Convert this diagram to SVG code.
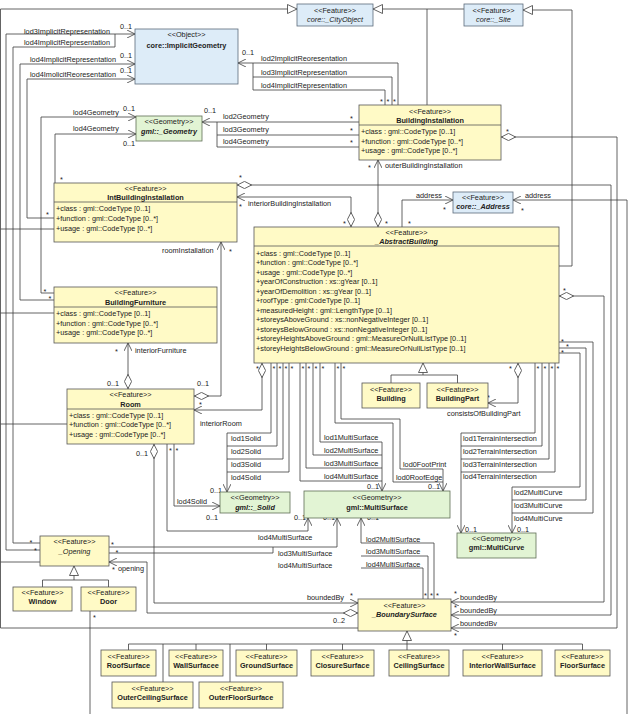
<svg xmlns="http://www.w3.org/2000/svg" width="628" height="714" viewBox="0 0 628 714">
<style>
text{font-family:"Liberation Sans",Arial,sans-serif;font-size:7.3px;fill:#222}
.m{text-anchor:middle}
.b{font-weight:bold}
.i{font-style:italic}
.y{fill:#fffac6;stroke:#555;stroke-width:0.8}
.bl{fill:#ddecf8;stroke:#5c6b7a;stroke-width:0.8}
.g{fill:#e2f4d4;stroke:#5f6e55;stroke-width:0.8}
.d{fill:none;stroke:#555;stroke-width:0.8}
#connectors path{fill:none;stroke:#3c3c3c;stroke-width:0.8}
</style>
<defs>
<marker id="arr" viewBox="0 0 8 8" refX="8" refY="4" markerWidth="8" markerHeight="8" orient="auto" markerUnits="userSpaceOnUse"><path d="M0,0 L8,4 L0,8" fill="none" stroke="#3c3c3c" stroke-width="0.8"/></marker>
<marker id="tri" viewBox="0 0 10 10" refX="10" refY="5" markerWidth="10" markerHeight="10" orient="auto" markerUnits="userSpaceOnUse"><path d="M0.5,0.5 L10,5 L0.5,9.5 Z" fill="#fff" stroke="#3c3c3c" stroke-width="0.8"/></marker>
<marker id="dia" viewBox="0 0 15 8" refX="0" refY="4" markerWidth="15" markerHeight="8" orient="auto" markerUnits="userSpaceOnUse"><path d="M0.4,4 L7.5,0.4 L14.6,4 L7.5,7.6 Z" fill="#fff" stroke="#3c3c3c" stroke-width="0.8"/></marker>
</defs>
<rect width="628" height="714" fill="#fff"/>

<g id="connectors">
<path d="M358,628 H0.5 V9 H297" marker-end="url(#tri)"/>
<path d="M54,229 H0.5 M54,313 H0.5 M67,424 H0.5 M40,562 H0.5"/>
<path d="M427,105 V9"/>
<path d="M464,9 H373" marker-end="url(#tri)"/>
<path d="M559,266 H572 V10 H523" marker-end="url(#tri)"/>
<path d="M423,375 V363" marker-end="url(#tri)"/>
<path d="M391,383 V375 H457.5 V383"/>
<path d="M74,580 V566" marker-end="url(#tri)"/>
<path d="M42.5,587 V580 H108.5 V587"/>
<path d="M407,650 V631" marker-end="url(#tri)"/>
<path d="M128.5,650 V644 H582.5 V650 M196,644 V650 M266.5,644 V650 M342.5,644 V650 M502.5,644 V650 M163,644 V682 M230,644 V682"/>

<path d="M40,550 H6 V34 H135" marker-end="url(#arr)"/>
<path d="M40,543 H13 V47 H115 V34"/>
<path d="M54,300 H20 V64 H135" marker-end="url(#arr)"/>
<path d="M54,218 H27 V79 H135" marker-end="url(#arr)"/>
<path d="M54,293 H41 V117 H136" marker-end="url(#arr)"/>
<path d="M55,183 V134 H136" marker-end="url(#arr)"/>
<path d="M398,105 V63 H238" marker-end="url(#arr)"/>
<path d="M392,105 V77 H253 V63 M385,105 V90 H253 V77"/>
<path d="M359,122 H202" marker-end="url(#arr)"/>
<path d="M359,135 H217 V122 M359,147 H217 V135"/>
<path d="M378,227 V160" marker-start="url(#dia)" marker-end="url(#arr)"/>
<path d="M351,227 V197 H237" marker-start="url(#dia)" marker-end="url(#arr)"/>
<path d="M237,185 H611 V615 H451" marker-start="url(#dia)" marker-end="url(#arr)"/>
<path d="M501,137 H617 V628 H451" marker-start="url(#dia)" marker-end="url(#arr)"/>
<path d="M559,296 H604 V602 H451" marker-start="url(#dia)" marker-end="url(#arr)"/>
<path d="M402,227 V200 H453" marker-end="url(#arr)"/>
<path d="M627,714 V200 H513" marker-end="url(#arr)"/>
<path d="M90,611 V714"/>
<path d="M194,396 H221 V242" marker-start="url(#dia)" marker-end="url(#arr)"/>
<path d="M128,389 V343" marker-start="url(#dia)" marker-end="url(#arr)"/>
<path d="M262,363 V410 H194" marker-start="url(#dia)" marker-end="url(#arr)"/>
<path d="M271,363 V433 H227 V492" marker-end="url(#arr)"/>
<path d="M277,363 V446 H227 M283,363 V459 H227 M289,363 V472 H227"/>
<path d="M174,444 V506 H220" marker-end="url(#arr)"/>
<path d="M167,444 V531 H308 V518" marker-end="url(#arr)"/>
<path d="M320,363 V442 H382 V491" marker-end="url(#arr)"/>
<path d="M313,363 V455 H382 M306,363 V468 H382 M300,363 V481 H382"/>
<path d="M341,363 V419 H400 V469 H443 V491" marker-end="url(#arr)"/>
<path d="M335,363 V423 H393 V482 H443"/>
<path d="M535,363 V433 H461 V533" marker-end="url(#arr)"/>
<path d="M542,363 V446 H461 M549,363 V459 H461 M555,363 V472 H461"/>
<path d="M559,353 H580 V487 H512 V533" marker-end="url(#arr)"/>
<path d="M559,348 H586 V500 H512 M559,342 H593 V513 H512"/>
<path d="M518,363 V403 H488" marker-start="url(#dia)" marker-end="url(#arr)"/>
<path d="M109,547 H337 V518" marker-end="url(#arr)"/>
<path d="M109,553 H273 V547"/>
<path d="M434,599 V543 H361 V518" marker-end="url(#arr)"/>
<path d="M428,599 V556 H361 M423,599 V568 H361"/>
<path d="M154,444 V603 H358" marker-start="url(#dia)" marker-end="url(#arr)"/>
<path d="M358,613 H147 V562 H109" marker-start="url(#dia)" marker-end="url(#arr)"/>

<g id="connector-labels">
<text x="24" y="33.6">lod3ImplicitRepresentation</text>
<text x="24" y="45.2">lod4ImplicitRepresentation</text>
<text x="120" y="28.6">0..1</text>
<text x="30" y="62.4">lod4ImplicitRepresentation</text>
<text x="120" y="57.6">0..1</text>
<text x="30" y="77.4">lod4ImolicitReoresentation</text>
<text x="120" y="72.6">0..1</text>
<text x="73" y="115.4">lod4Geometry</text>
<text x="123" y="110.6">0..1</text>
<text x="73" y="130.6">lod4Geometry</text>
<text x="123" y="145.6">0..1</text>
<text x="204" y="112.6">0..1</text>
<text x="242" y="54.6">0..1</text>
<text x="261" y="61.4">lod2ImplicitReoresentation</text>
<text x="261" y="74.6">lod3ImplicitRepresentation</text>
<text x="261" y="87.6">lod4ImplicitRepresentation</text>
<text x="380" y="104">*</text><text x="386.5" y="104">*</text><text x="393" y="104">*</text>
<text x="223" y="118.6">lod2Geometry</text>
<text x="223" y="131.6">lod3Geometry</text>
<text x="223" y="143.6">lod4Geometry</text>
<text x="350" y="121">*</text><text x="350" y="133">*</text><text x="350" y="145">*</text>
<text x="368" y="170">*</text>
<text x="385" y="167.6">outerBuildingInstallation</text>
<text x="506" y="134">*</text>
<text x="239" y="180">*</text>
<text x="239" y="209">*</text>
<text x="248" y="205.6">interiorBuildingInstallation</text>
<text x="343" y="226">*</text><text x="385" y="226">*</text>
<text x="416" y="198.4">address</text>
<text x="443" y="212">*</text>
<text x="408" y="226">*</text>
<text x="525" y="198.4">address</text>
<text x="521" y="213">*</text>
<text x="563" y="293">*</text>
<text x="561" y="343.5">*</text><text x="566" y="349">*</text><text x="561" y="354.5">*</text>
<text x="162" y="252.6">roomInstallation</text>
<text x="229" y="254">*</text>
<text x="46" y="217">*</text>
<text x="43.5" y="294">*</text><text x="48.5" y="301">*</text>
<text x="60" y="182">*</text>
<text x="115" y="354">*</text>
<text x="135" y="352.6">interiorFurniture</text>
<text x="107" y="385.6">0..1</text>
<text x="197" y="385.6">0..1</text>
<text x="200" y="425.6">interiorRoom</text>
<text x="199" y="407">*</text>
<text x="136" y="455.6">0..1</text>
<text x="169" y="453">*</text><text x="175.5" y="453">*</text>
<text x="231" y="440.6">lod1Solid</text>
<text x="231" y="453.6">lod2Solid</text>
<text x="231" y="466.6">lod3Solid</text>
<text x="231" y="479.6">lod4Solid</text>
<text x="210" y="492.6">0..1</text>
<text x="177" y="503.6">lod4Solid</text>
<text x="206" y="519.6">0..1</text>
<text x="258" y="539.6">lod4MultiSurface</text>
<text x="294" y="519.6">0..1</text>
<text x="323" y="519.6">0..1</text>
<text x="367" y="519.6">0..1</text>
<text x="324" y="440.4">lod1MultiSurface</text>
<text x="324" y="453.4">lod2MultiSurface</text>
<text x="324" y="466.4">lod3MultiSurface</text>
<text x="324" y="479.4">lod4MultiSurface</text>
<text x="367" y="489.4">0..1</text>
<text x="428" y="489.4">0..1</text>
<text x="403" y="467">lod0FootPrint</text>
<text x="396" y="480">lod0RoofEdge</text>
<text x="256" y="371">*</text>
<text x="272.5" y="371">*</text><text x="278.5" y="371">*</text><text x="284.5" y="371">*</text><text x="290.5" y="371">*</text>
<text x="301.5" y="371">*</text><text x="307.5" y="371">*</text><text x="314.5" y="371">*</text><text x="321.5" y="371">*</text>
<text x="336.5" y="371">*</text><text x="342.5" y="371">*</text>
<text x="509" y="371">*</text>
<text x="536.5" y="371">*</text><text x="543.5" y="371">*</text><text x="550.5" y="371">*</text><text x="556.5" y="371">*</text>
<text x="487" y="400">*</text>
<text x="447" y="415.6">consistsOfBuildingPart</text>
<text x="463" y="440.6">lod1TerrainIntersection</text>
<text x="463" y="453.6">lod2TerrainIntersection</text>
<text x="463" y="466.6">lod3TerrainIntersection</text>
<text x="463" y="478.6">lod4TerrainIntersection</text>
<text x="465" y="531.6">0..1</text>
<text x="517" y="531.6">0..1</text>
<text x="514" y="494.6">lod2MultiCurve</text>
<text x="514" y="507.6">lod3MultiCurve</text>
<text x="514" y="520.6">lod4MultiCurve</text>
<text x="29.5" y="545">*</text><text x="34" y="553">*</text>
<text x="111" y="547">*</text><text x="115.5" y="554.5">*</text>
<text x="112" y="572">*</text>
<text x="118" y="570.6">opening</text>
<text x="278" y="555.6">lod3MultiSurface</text>
<text x="278" y="567.6">lod4MultiSurface</text>
<text x="366" y="541.6">lod2MultiSurface</text>
<text x="366" y="554.4">lod3MultiSurface</text>
<text x="366" y="566.6">lod4MultiSurface</text>
<text x="424" y="598">*</text><text x="430" y="598">*</text><text x="436" y="598">*</text>
<text x="307" y="599.6">boundedBy</text>
<text x="350" y="598">*</text>
<text x="333" y="622.6">0..2</text>
<text x="93" y="620">*</text>
<text x="454" y="596">*</text>
<text x="460" y="599.6">boundedBy</text>
<text x="454" y="610">*</text>
<text x="460" y="612.6">boundedBy</text>
<text x="460" y="625.6">boundedBv</text>
<text x="454" y="638">*</text>
</g>
</g>

<g id="CityObject"><rect class="bl" x="297" y="4" width="76" height="22"/><text class="m" x="335" y="13.4">&lt;&lt;Feature&gt;&gt;</text><text class="m i" x="335" y="22.4">core::_CityObject</text></g>
<g id="Site"><rect class="bl" x="464" y="4" width="59" height="22"/><text class="m" x="493.5" y="12.6">&lt;&lt;Feature&gt;&gt;</text><text class="m i" x="493.5" y="21.6">core::_Site</text></g>
<g id="ImplicitGeometry"><rect class="bl" x="135" y="29" width="103" height="55"/><text class="m" x="186.5" y="36.6">&lt;&lt;Object&gt;&gt;</text><text class="m b" x="186.5" y="47.6">core::ImplicitGeometry</text></g>
<g id="Geometry"><rect class="g" x="136" y="116" width="66" height="25"/><text class="m" x="169" y="123.6">&lt;&lt;Geometry&gt;&gt;</text><text class="m b i" x="169" y="133.6">gml::_Geometry</text></g>
<g id="BuildingInstallation"><rect class="y" x="359" y="105" width="142" height="55"/><path class="d" d="M359,125 H501"/><text class="m" x="430" y="113.6">&lt;&lt;Feature&gt;&gt;</text><text class="m b" x="430" y="122.6">BuildingInstallation</text><text x="361" y="133.6">+class : gml::CodeType [0..1]</text><text x="361" y="143.6">+function : gml::CodeType [0..*]</text><text x="361" y="152.6">+usage : gml::CodeType [0..*]</text></g>
<g id="IntBuildingInstallation"><rect class="y" x="54" y="183" width="183" height="59"/><path class="d" d="M54,202 H237"/><text class="m" x="145.5" y="190.6">&lt;&lt;Feature&gt;&gt;</text><text class="m b" x="145.5" y="199.6">IntBuildingInstallation</text><text x="56" y="210.6">+class : gml::CodeType [0..1]</text><text x="56" y="220.6">+function : gml::CodeType [0..*]</text><text x="56" y="230.6">+usage : gml::CodeType [0..*]</text></g>
<g id="Address"><rect class="bl" x="453" y="192" width="60" height="21"/><text class="m" x="483" y="199.6">&lt;&lt;Feature&gt;&gt;</text><text class="m b i" x="483" y="208.6">core::_Address</text></g>
<g id="AbstractBuilding"><rect class="y" x="254" y="227" width="305" height="136"/><path class="d" d="M254,246 H559"/><text class="m" x="406.5" y="234.6">&lt;&lt;Feature&gt;&gt;</text><text class="m b i" x="406.5" y="243.6">_AbstractBuilding</text>
<text x="256" y="255.6">+class : gml::CodeType [0..1]</text>
<text x="256" y="265.1">+function : gml::CodeType [0..*]</text>
<text x="256" y="274.6">+usage : gml::CodeType [0..*]</text>
<text x="256" y="284.1">+yearOfConstruction : xs::gYear [0..1]</text>
<text x="256" y="293.6">+yearOfDemolition : xs::gYear [0..1]</text>
<text x="256" y="303.1">+roofType : gml:CodeType [0..1]</text>
<text x="256" y="312.6">+measuredHeight : gml::LengthType [0..1]</text>
<text x="256" y="322.1">+storeysAboveGround : xs::nonNegativeInteger [0..1]</text>
<text x="256" y="331.6">+storeysBelowGround : xs::nonNegativeInteger [0..1]</text>
<text x="256" y="341.1">+storeyHeightsAboveGround : gml::MeasureOrNullListType [0..1]</text>
<text x="256" y="350.6">+storeyHeightsBelowGround : gml::MeasureOrNullListType [0..1]</text></g>
<g id="BuildingFurniture"><rect class="y" x="54" y="287" width="163" height="56"/><path class="d" d="M54,307 H217"/><text class="m" x="135.5" y="294.6">&lt;&lt;Feature&gt;&gt;</text><text class="m b" x="135.5" y="304.6">BuildingFurniture</text><text x="56" y="315.6">+class : gml::CodeType [0..1]</text><text x="56" y="325.6">+function : gml::CodeType [0..*]</text><text x="56" y="334.6">+usage : gml::CodeType [0..*]</text></g>
<g id="Building"><rect class="y" x="362" y="383" width="58" height="25"/><text class="m" x="391" y="391.6">&lt;&lt;Feature&gt;&gt;</text><text class="m b" x="391" y="400.6">Building</text></g>
<g id="BuildingPart"><rect class="y" x="427" y="383" width="61" height="25"/><text class="m" x="457.5" y="391.6">&lt;&lt;Feature&gt;&gt;</text><text class="m b" x="457.5" y="400.6">BuildingPart</text></g>
<g id="Room"><rect class="y" x="67" y="389" width="127" height="55"/><path class="d" d="M67,409 H194"/><text class="m" x="130.5" y="396.6">&lt;&lt;Feature&gt;&gt;</text><text class="m b" x="130.5" y="406.6">Room</text><text x="69" y="417.6">+class : gml::CodeType [0..1]</text><text x="69" y="426.6">+function : gml::CodeType [0..*]</text><text x="69" y="436.6">+usage : gml::CodeType [0..*]</text></g>
<g id="Solid"><rect class="g" x="220" y="492" width="70" height="21"/><text class="m" x="255" y="499.6">&lt;&lt;Geometry&gt;&gt;</text><text class="m b i" x="255" y="509.6">gml::_Solid</text></g>
<g id="MultiSurface"><rect class="g" x="304" y="491" width="146" height="27"/><text class="m" x="377" y="499.6">&lt;&lt;Geometry&gt;&gt;</text><text class="m b" x="377" y="509.6">gml::MultiSurface</text></g>
<g id="MultiCurve"><rect class="g" x="457" y="533" width="79" height="25"/><text class="m" x="496.5" y="540.6">&lt;&lt;Geometry&gt;&gt;</text><text class="m b" x="496.5" y="549.6">gml::MultiCurve</text></g>
<g id="Opening"><rect class="y" x="40" y="536" width="69" height="30"/><text class="m" x="74.5" y="543.6">&lt;&lt;Feature&gt;&gt;</text><text class="m i" x="74.5" y="553.6">_Opening</text></g>
<g id="Window"><rect class="y" x="13" y="587" width="59" height="24"/><text class="m" x="42.5" y="594.6">&lt;&lt;Feature&gt;&gt;</text><text class="m b" x="42.5" y="603.6">Window</text></g>
<g id="Door"><rect class="y" x="81" y="587" width="55" height="24"/><text class="m" x="108.5" y="594.6">&lt;&lt;Feature&gt;&gt;</text><text class="m b" x="108.5" y="603.6">Door</text></g>
<g id="BoundarySurface"><rect class="y" x="358" y="599" width="93" height="32"/><text class="m" x="404.5" y="607.6">&lt;&lt;Feature&gt;&gt;</text><text class="m b i" x="404.5" y="616.6">_BoundarySurface</text></g>
<g id="RoofSurface"><rect class="y" x="101" y="650" width="55" height="26"/><text class="m" x="128.5" y="658.6">&lt;&lt;Feature&gt;&gt;</text><text class="m b" x="128.5" y="667.6">RoofSurface</text></g>
<g id="WallSurfacee"><rect class="y" x="169" y="650" width="54" height="26"/><text class="m" x="196" y="658.6">&lt;&lt;Feature&gt;&gt;</text><text class="m b" x="196" y="667.6">WallSurfacee</text></g>
<g id="GroundSurface"><rect class="y" x="236" y="650" width="61" height="26"/><text class="m" x="266.5" y="658.6">&lt;&lt;Feature&gt;&gt;</text><text class="m b" x="266.5" y="667.6">GroundSurface</text></g>
<g id="ClosureSurface"><rect class="y" x="311" y="650" width="63" height="26"/><text class="m" x="342.5" y="658.6">&lt;&lt;Feature&gt;&gt;</text><text class="m b" x="342.5" y="667.6">ClosureSurface</text></g>
<g id="CeilingSurface"><rect class="y" x="389" y="650" width="60" height="26"/><text class="m" x="419" y="658.6">&lt;&lt;Feature&gt;&gt;</text><text class="m b" x="419" y="667.6">CeilingSurface</text></g>
<g id="InteriorWallSurface"><rect class="y" x="463" y="650" width="79" height="26"/><text class="m" x="502.5" y="658.6">&lt;&lt;Feature&gt;&gt;</text><text class="m b" x="502.5" y="667.6">InteriorWallSurface</text></g>
<g id="FloorSurface"><rect class="y" x="555" y="650" width="55" height="26"/><text class="m" x="582.5" y="658.6">&lt;&lt;Feature&gt;&gt;</text><text class="m b" x="582.5" y="667.6">FloorSurface</text></g>
<g id="OuterCeilingSurface"><rect class="y" x="112" y="682" width="81" height="26"/><text class="m" x="152.5" y="690.6">&lt;&lt;Feature&gt;&gt;</text><text class="m b" x="152.5" y="699.6">OuterCeilingSurface</text></g>
<g id="OuterFloorSurface"><rect class="y" x="199" y="682" width="84" height="26"/><text class="m" x="241" y="690.6">&lt;&lt;Feature&gt;&gt;</text><text class="m b" x="241" y="699.6">OuterFloorSurface</text></g>
</svg>
